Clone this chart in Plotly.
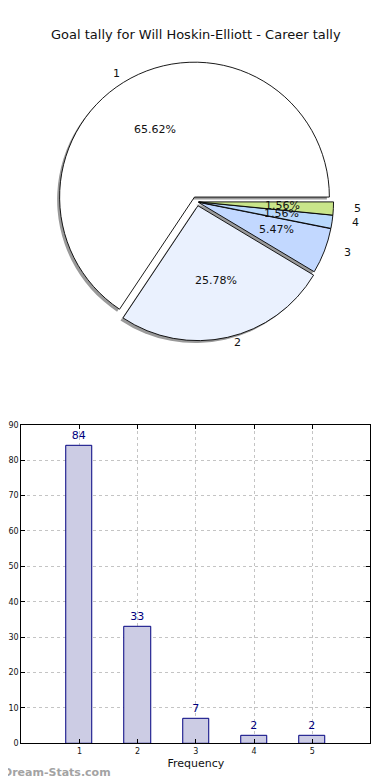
import numpy as np
import plotly.graph_objects as go

# ---- data ----
categories = ["1", "2", "3", "4", "5"]
counts = [84, 33, 7, 2, 2]
pie_colors = ["#ffffff", "#eaf1fe", "#c2d8ff", "#b8d8fc", "#c9e58a"]
pulls = [0.04, 0.03, 0.012, 0.012, 0.012]
y_ticks = [0, 10, 20, 30, 40, 50, 60, 70, 80, 90]
title_text = "Goal tally for Will Hoskin-Elliott - Career tally"

W, H = 390, 780
OFF = 8.0          # page body margin
SY = 788.0 / 780.0  # observed vertical page scaling
FONT = "DejaVu Sans"


def fx(x):
    return (x - OFF) / W


def fy(y):
    return 1 - (y * SY - OFF) / H


# pie geometry (reference pixels)
cx, cy = 196.0, 198.0
box = 282.0
maxpull = max(pulls)
r = box / (2 + 2 * maxpull)
# text placement follows the (slightly elliptical) reference pie
rx_t, ry_t = 140.0, 128.0

dom_x = [fx(cx - box / 2), fx(cx + box / 2)]
dom_y = [fy(cy + box / 2), fy(cy - box / 2)]
sh = 2.5
dom_x_s = [dom_x[0] - sh / W, dom_x[1] - sh / W]
dom_y_s = [dom_y[0] - sh / H, dom_y[1] - sh / H]

total = float(sum(counts))
rot = 90 - 360.0 * counts[0] / total  # first slice starts at 3 o'clock, counterclockwise

fig = go.Figure()

# shadow
fig.add_trace(go.Pie(
    labels=categories, values=counts, sort=False, direction="counterclockwise",
    rotation=rot, pull=pulls, textinfo="none", hoverinfo="skip", showlegend=False,
    marker=dict(colors=["#9a9a9a"] * len(counts), line=dict(color="#9a9a9a", width=0)),
    domain=dict(x=dom_x_s, y=dom_y_s),
))
# main pie
fig.add_trace(go.Pie(
    labels=categories, values=counts, sort=False, direction="counterclockwise",
    rotation=rot, pull=pulls, textinfo="none", showlegend=False,
    marker=dict(colors=pie_colors, line=dict(color="#000000", width=0.9)),
    domain=dict(x=dom_x, y=dom_y),
))

annotations = []
start = 0.0
for lab, v, p in zip(categories, counts, pulls):
    frac = v / total
    mid = np.deg2rad((start + frac / 2) * 360.0)
    start += frac
    c, s = np.cos(mid), np.sin(mid)
    lx = cx + (p + 1.1) * rx_t * c
    ly = cy - (p + 1.1) * ry_t * s
    annotations.append(dict(x=fx(lx), y=fy(ly), xref="paper", yref="paper", text=lab,
                            showarrow=False, xanchor="left" if c > 0 else "right",
                            yanchor="middle", font=dict(family=FONT, size=11, color="#111")))
    tx = cx + (p + 0.6) * rx_t * c
    ty = cy - (p + 0.6) * ry_t * s
    annotations.append(dict(x=fx(tx), y=fy(ty), xref="paper", yref="paper",
                            text=f"{frac*100:.2f}%", showarrow=False,
                            xanchor="center", yanchor="middle",
                            font=dict(family=FONT, size=11, color="#111")))

# bar chart
xs = [int(c) for c in categories]
fig.add_trace(go.Bar(
    x=xs, y=counts, width=0.45, showlegend=False,
    marker=dict(color="#ccccE4", line=dict(color="#000080", width=1)),
    text=[str(c) for c in counts], textposition="outside", cliponaxis=False,
    textfont=dict(family=FONT, size=11, color="#000080"),
    xaxis="x", yaxis="y",
))

annotations.append(dict(x=fx(195), y=fy(30), xref="paper", yref="paper", text=title_text,
                        showarrow=False, xanchor="center", yanchor="middle",
                        font=dict(family=FONT, size=13, color="#111")))
annotations.append(dict(x=fx(-1.5), y=fy(769), xref="paper", yref="paper", text="<b>Dream-Stats.com</b>",
                        showarrow=False, xanchor="left", yanchor="middle",
                        font=dict(family=FONT, size=11, color="#a3a3a3")))

fig.update_layout(
    width=W, height=H, margin=dict(l=0, r=0, t=0, b=0),
    paper_bgcolor="white", plot_bgcolor="white",
    font=dict(family=FONT, color="#111"),
    annotations=annotations,
    bargap=0,
    xaxis=dict(domain=[fx(19.3), fx(370.3)], range=[0, 6], tickvals=xs, ticktext=categories,
               ticks="inside", ticklen=4, tickcolor="#000", showline=True, linecolor="#000",
               linewidth=1, mirror="ticks", showgrid=True, gridcolor="#c4c4c4", griddash="dot",
               gridwidth=1, zeroline=False, tickfont=dict(size=8, color="#111"),
               title=dict(text="Frequency", font=dict(size=11, color="#111"), standoff=4),
               anchor="y", fixedrange=True),
    yaxis=dict(domain=[fy(740.3), fy(421.3)], range=[0, 90], tickvals=y_ticks,
               ticks="inside", ticklen=4, tickcolor="#000", showline=True, linecolor="#000",
               linewidth=1, mirror="ticks", showgrid=True, gridcolor="#c4c4c4", griddash="dot",
               gridwidth=1, zeroline=False, tickfont=dict(size=8, color="#111"),
               anchor="x", fixedrange=True),
)

fig.write_html("out.html")
